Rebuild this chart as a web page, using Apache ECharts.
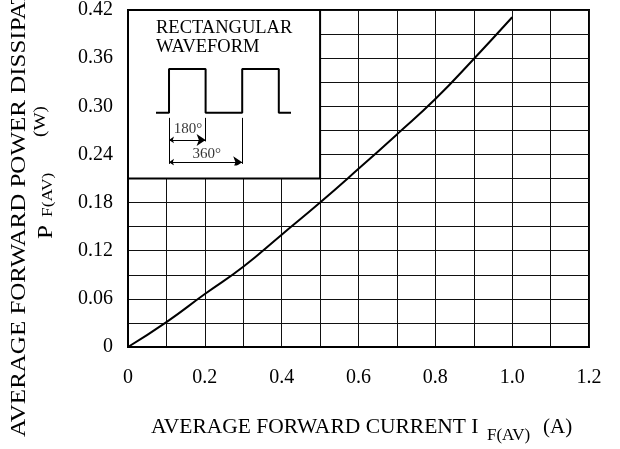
<!DOCTYPE html>
<html>
<head>
<meta charset="utf-8">
<script src="https://cdn.jsdelivr.net/npm/echarts@6/dist/echarts.min.js"></script>
<style>html,body{margin:0;padding:0;background:#fff;}#c{width:620px;height:449px;}</style>
</head>
<body>
<div id="c"></div>
<script>
// Main curve data
const currentA = [0, 0.1, 0.2, 0.3, 0.4, 0.5, 0.6, 0.7, 0.8, 0.9, 1.0];
const powerW   = [0, 0.031, 0.066, 0.100, 0.140, 0.180, 0.222, 0.265, 0.309, 0.359, 0.411];
// Inset region (data units of main chart)
const insetX = [0, 0.5];
const insetY = [0.21, 0.42];
// Waveform illustration (degrees, level)
const waveDeg   = [-64, 0, 0, 180, 180, 360, 360, 540, 540, 600];
const waveLevel = [0, 0, 1, 1, 0, 0, 1, 1, 0, 0];
const dimTickDeg = [0, 180, 360];
const dimTickEnd = [-1.175, -0.66, -1.175];
const dimArrowDeg = [180, 360];
const dimArrowLevel = [-0.625, -1.135];
const dimLabels = ['180°', '360°'];
const dimLabelDeg = [93, 185];
const dimLabelLevel = [-0.37, -0.945];

const FONT = 'Liberation Serif, Times New Roman, serif';
const chart = echarts.init(document.getElementById('c'), null, {renderer: 'canvas'});

const curveData = currentA.map((x, i) => [x, powerW[i]]);
const waveData = waveDeg.map((d, i) => [d, waveLevel[i]]);
const tickLines = dimTickDeg.map((d, i) => ({coords: [[d, -0.12], [d, dimTickEnd[i]]]}));
const arrowLines = dimArrowDeg.map((d, i) => ({coords: [[0, dimArrowLevel[i]], [d, dimArrowLevel[i]]]}));
const labelData = dimLabels.map((t, i) => ({value: [dimLabelDeg[i], dimLabelLevel[i]], name: t}));

chart.setOption({
  animation: false,
  backgroundColor: '#fff',
  grid: [
    {left: 128, right: 31, top: 7, bottom: 102, show: true, borderColor: '#000', borderWidth: 2, backgroundColor: 'transparent'},
    {left: 156, top: 69, width: 135, height: 96}
  ],
  xAxis: [{
    type: 'value', min: 0, max: 1.2, interval: 0.2,
    axisLine: {show: true, lineStyle: {color: '#000', width: 2}},
    axisTick: {show: false},
    minorTick: {show: false, splitNumber: 2},
    splitLine: {show: true, lineStyle: {color: '#111', width: 1}},
    minorSplitLine: {show: true, lineStyle: {color: '#111', width: 1}},
    axisLabel: {color: '#000', fontFamily: FONT, fontSize: 20, margin: 21,
      formatter: v => v === 0 ? '0' : v.toFixed(1)}
  }, {
    gridIndex: 1, type: 'value', min: -64, max: 600, show: false
  }],
  yAxis: [{
    type: 'value', min: 0, max: 0.42, interval: 0.06,
    axisLine: {show: true, lineStyle: {color: '#000', width: 2}},
    axisTick: {show: false},
    minorTick: {show: false, splitNumber: 2},
    splitLine: {show: true, lineStyle: {color: '#111', width: 1}},
    minorSplitLine: {show: true, lineStyle: {color: '#111', width: 1}},
    axisLabel: {color: '#000', fontFamily: FONT, fontSize: 20, margin: 15,
      formatter: v => v === 0 ? '0' : v.toFixed(2)}
  }, {
    gridIndex: 1, type: 'value', min: -1.2, max: 1, show: false
  }],
  series: [
    {
      type: 'line', data: curveData, smooth: true, symbol: 'none',
      lineStyle: {color: '#000', width: 2}, z: 3,
      markArea: {
        silent: true,
        itemStyle: {color: '#fff', borderColor: '#000', borderWidth: 2, opacity: 1},
        label: {show: false},
        data: [[{coord: [insetX[0], insetY[0]]}, {coord: [insetX[1], insetY[1]]}]]
      }
    },
    {
      type: 'line', xAxisIndex: 1, yAxisIndex: 1, data: waveData, symbol: 'none',
      lineStyle: {color: '#000', width: 2}, z: 5
    },
    {
      type: 'lines', coordinateSystem: 'cartesian2d', xAxisIndex: 1, yAxisIndex: 1,
      data: tickLines, symbol: 'none', lineStyle: {color: '#000', width: 1, opacity: 1}, z: 5
    },
    {
      type: 'lines', coordinateSystem: 'cartesian2d', xAxisIndex: 1, yAxisIndex: 1,
      data: arrowLines, symbol: ['arrow', 'arrow'], symbolSize: [5, 9],
      lineStyle: {color: '#000', width: 1, opacity: 1}, z: 5
    },
    {
      type: 'scatter', xAxisIndex: 1, yAxisIndex: 1, data: labelData, symbolSize: 0, z: 6,
      label: {show: true, position: 'inside', color: '#000', fontFamily: FONT, fontSize: 15,
        formatter: p => p.name}
    }
  ],
  graphic: [
    {type: 'text', left: 156, top: 19, z: 10, style: {text: 'RECTANGULAR', font: '18.5px ' + FONT, fill: '#000'}},
    {type: 'text', left: 156, top: 38, z: 10, style: {text: 'WAVEFORM', font: '18.5px ' + FONT, fill: '#000'}},
    // x-axis title
    {type: 'text', x: 151, y: 427, z: 10, style: {text: 'AVERAGE FORWARD CURRENT I', font: '21.5px ' + FONT, fill: '#000', align: 'left', verticalAlign: 'middle'}},
    {type: 'text', x: 487, y: 436, z: 10, style: {text: 'F(AV)', font: '17px ' + FONT, fill: '#000', align: 'left', verticalAlign: 'middle'}},
    {type: 'text', x: 543, y: 427, z: 10, style: {text: '(A)', font: '21px ' + FONT, fill: '#000', align: 'left', verticalAlign: 'middle'}},
    // y-axis title
    {type: 'text', x: 19.5, y: 437, rotation: Math.PI / 2, scaleX: 1.19, z: 10, style: {text: 'AVERAGE FORWARD POWER DISSIPATION', font: '21px ' + FONT, fill: '#000', align: 'left', verticalAlign: 'middle'}},
    {type: 'text', x: 46, y: 239, rotation: Math.PI / 2, scaleX: 1.2, z: 10, style: {text: 'P', font: '21px ' + FONT, fill: '#000', align: 'left', verticalAlign: 'middle'}},
    {type: 'text', x: 48, y: 217, rotation: Math.PI / 2, scaleX: 1.13, z: 10, style: {text: 'F(AV)', font: '15.5px ' + FONT, fill: '#000', align: 'left', verticalAlign: 'middle'}},
    {type: 'text', x: 41, y: 137, rotation: Math.PI / 2, scaleX: 1.13, z: 10, style: {text: '(W)', font: '17px ' + FONT, fill: '#000', align: 'left', verticalAlign: 'middle'}}
  ]
});
</script>
</body>
</html>
